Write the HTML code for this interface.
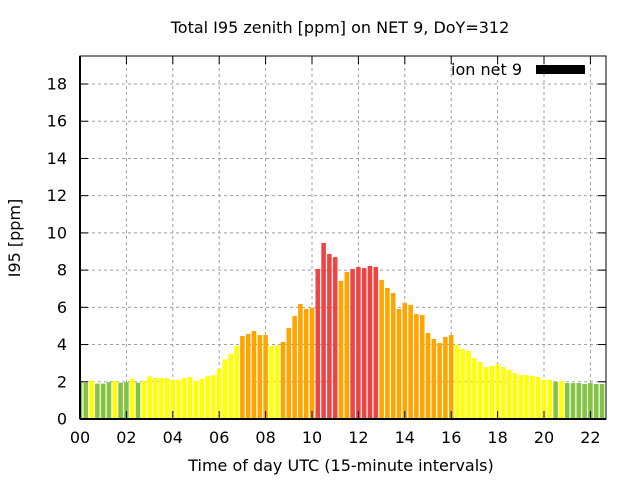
<!DOCTYPE html>
<html><head><meta charset="utf-8"><style>
html,body{margin:0;padding:0;background:#fff;}
svg{display:block;font-family:"DejaVu Sans","Liberation Sans",sans-serif;}
</style></head><body>
<svg id="chart" width="640" height="480" viewBox="0 0 640 480" xmlns="http://www.w3.org/2000/svg">
<rect width="640" height="480" fill="#fff"/>
<text x="340" y="33" font-size="16" text-anchor="middle">Total I95 zenith [ppm] on NET 9, DoY=312</text>
<text x="20" y="238" font-size="16" text-anchor="middle" transform="rotate(-90 20 238)">I95 [ppm]</text>
<text x="341" y="471" font-size="16" text-anchor="middle">Time of day UTC (15-minute intervals)</text>
<g id="grid"></g>
<g id="bars"></g>
<g id="axes"></g>
<g>
<text x="522" y="75" font-size="16" text-anchor="end">ion net 9</text>
<rect x="536" y="65" width="49" height="9" fill="#000"/>
</g>
</svg>
<script>
const values = [1.98,1.95,2.05,1.9,1.9,1.98,2.05,1.95,1.98,2.15,1.95,2.05,2.3,2.2,2.2,2.2,2.1,2.1,2.2,2.25,
2.05,2.15,2.3,2.35,2.7,3.2,3.5,3.92,4.46,4.57,4.73,4.51,4.51,3.92,3.97,4.14,4.89,5.53,6.18,5.91,
5.98,8.06,9.46,8.87,8.7,7.42,7.9,8.06,8.17,8.11,8.22,8.17,7.47,7.04,6.77,5.91,6.23,6.13,5.64,5.59,
4.62,4.3,4.08,4.41,4.51,3.98,3.76,3.65,3.28,3.06,2.79,2.85,2.96,2.79,2.63,2.47,2.36,2.36,2.31,2.26,
2.1,2.1,1.99,2.04,1.93,1.93,1.93,1.88,1.93,1.88,1.88,1.88];
const yTicks = [0,2,4,6,8,10,12,14,16,18];
const xTickLabels = ["00","02","04","06","08","10","12","14","16","18","20","22"];
const thresholds = [2,4,8];
const colors = ["#82c341","#ffff00","#ffa500","#ef4444"];

const NS="http://www.w3.org/2000/svg";
const L=80,R=606,T=56,B=419;
const yUnit=18.61, slot=5.8, hourPx=23.2, barW=4.6;
const y=v=>B-v*yUnit;
const xSlot=i=>L+i*slot;
function mk(tag,attrs,parent){const e=document.createElementNS(NS,tag);for(const k in attrs)e.setAttribute(k,attrs[k]);parent.appendChild(e);return e;}
const grid=document.getElementById('grid'),bars=document.getElementById('bars'),axes=document.getElementById('axes');
const svg=document.getElementById('chart');
const defs=mk('defs',{},svg);
const cp=mk('clipPath',{id:'pc'},defs);
mk('rect',{x:L,y:T,width:R-L,height:B-T},cp);
bars.setAttribute('clip-path','url(#pc)');

yTicks.forEach(t=>{
  const yy=y(t);
  if(t>0){const g=mk('line',{x1:L,x2:R,y1:yy,y2:yy,stroke:'#a0a0a0','stroke-width':1,'stroke-dasharray':'3,3'},grid);
  
  }
  const tx=mk('text',{x:67,y:yy+5.5,'font-size':16,'text-anchor':'end'},axes);
  tx.textContent=t;
  
  
  mk('line',{x1:L,x2:L+8,y1:yy,y2:yy,stroke:'#000'},axes);
  mk('line',{x1:R,x2:R-8,y1:yy,y2:yy,stroke:'#000'},axes);
});
xTickLabels.forEach((lab,k)=>{
  const xx=L+k*2*hourPx;
  if(k>0){const g=mk('line',{x1:xx,x2:xx,y1:T,y2:B,stroke:'#a0a0a0','stroke-width':1,'stroke-dasharray':'3,3'},grid);
  
  }
  const tx=mk('text',{x:xx,y:443,'font-size':16,'text-anchor':'middle'},axes);
  tx.textContent=lab;
  
  
  mk('line',{x1:xx,x2:xx,y1:B,y2:B-8,stroke:'#000'},axes);
  mk('line',{x1:xx,x2:xx,y1:T,y2:T+8,stroke:'#000'},axes);
});
values.forEach((v,i)=>{
  let c=0;while(c<thresholds.length&&v>=thresholds[c])c++;
  const r=mk('rect',{x:xSlot(i)-barW/2,y:y(v),width:barW,height:B-y(v),fill:colors[c]},bars);
  
  
});
const fr=mk('rect',{x:L,y:T,width:R-L,height:B-T,fill:'none',stroke:'#000','stroke-width':1},axes);


mk('line',{x1:L,x2:R,y1:B,y2:B,stroke:'#000','stroke-width':2},axes);
mk('line',{x1:L,x2:L,y1:T,y2:B,stroke:'#000','stroke-width':2},axes);
</script>
</body></html>
